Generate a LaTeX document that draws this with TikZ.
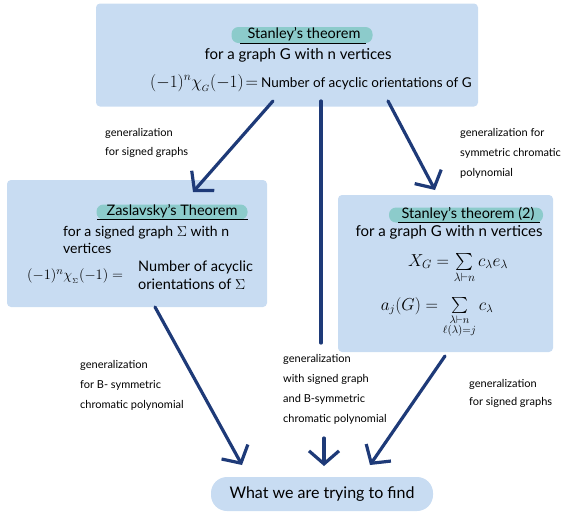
\documentclass[tikz,border=0pt]{standalone}
\usepackage{fontspec}
\usepackage{amsmath,amssymb}
\setmainfont{Lato}
\usetikzlibrary{arrows.meta,positioning}
\definecolor{boxblue}{HTML}{C8DCF2}
\definecolor{teal}{HTML}{8CCBCB}
\definecolor{navy}{HTML}{1E3A78}
\tikzset{
  panel/.style={fill=boxblue, draw=none, rounded corners=4pt, inner sep=0pt},
  pill/.style={fill=teal, rounded corners=7pt, inner sep=0pt},
  pilltext/.style={inner sep=0pt, font=\fontsize{14.5}{16}\selectfont},
  bodytext/.style={inner sep=0pt, font=\fontsize{15}{19}\selectfont, align=left},
  note/.style={inner sep=0pt, anchor=west, align=left, font=\fontsize{11}{20}\selectfont},
  conn/.style={draw=navy, line width=3.2pt, line cap=round, -{Straight Barb[length=13pt,width=30pt,line width=3.2pt]}},
  shaft/.style={draw=navy, line width=3.2pt, line cap=round},
}
\begin{document}
\begin{tikzpicture}[x=1pt,y=-1pt]
\useasboundingbox (0,0) rectangle (561,512);
% panels
\node[panel, minimum width=382pt, minimum height=103pt] (top) at (287,55) {};
\node[panel, minimum width=260pt, minimum height=127pt] (left) at (137,243.5) {};
\node[panel, minimum width=215pt, minimum height=157pt] (right) at (445.5,273.5) {};
\node[fill=boxblue, rounded corners=16pt, minimum width=222pt, minimum height=34pt, inner sep=0pt, font=\fontsize{16}{18}\selectfont] (goal) at (322,494) {What we are trying to find};
% top panel text
\node[pill, minimum width=141pt, minimum height=16pt] (t1pill) at (302,35) {};
\node[pilltext] (t1) at (304,34) {Stanley's theorem};
\draw[line width=0.8pt] (240,43.5) -- (366,43.5);
\node[bodytext] (t2) at (298,55) {for a graph G with n vertices};
\node[inner sep=0pt, anchor=west, font=\fontsize{18}{20}\selectfont] (t3) at (150,83) {$(-1)^{n}\chi_{_{G}}(-1)\!=$\,\fontsize{13.5}{15}\selectfont Number of acyclic orientations of G};
% left panel text
\node[pill, minimum width=151pt, minimum height=15pt] (l1pill) at (172,212) {};
\node[pilltext] (l1) at (172,211) {Zaslavsky's Theorem};
\draw[line width=0.8pt] (97,219.5) -- (248,219.5);
\node[bodytext, anchor=west, font=\fontsize{14}{17}\selectfont] (l2) at (63,240) {for a signed graph $\Sigma$ with n\\vertices};
\node[inner sep=0pt, anchor=west, font=\fontsize{15}{17}\selectfont] (l3) at (27,276) {$(-1)^{n}\chi_{_{\Sigma}}(-1) =$};
\node[bodytext, anchor=west, font=\fontsize{14.5}{17.5}\selectfont] (l4) at (138,275) {Number of acyclic\\orientations of $\Sigma$};
% right panel text
\node[pill, minimum width=154pt, minimum height=15pt] (r1pill) at (466,215) {};
\node[pilltext] (r1) at (468,214) {Stanley's theorem (2)};
\draw[line width=0.8pt] (398,222.5) -- (540,222.5);
\node[bodytext] (r2) at (449,232) {for a graph G with n vertices};
\node[inner sep=0pt, anchor=base, font=\fontsize{17}{19}\selectfont] (r3) at (458,266) {$X_{G}=\sum\limits_{\lambda\vdash n} c_{\lambda}e_{\lambda}$};
\node[inner sep=0pt, anchor=base, font=\fontsize{16}{18}\selectfont] (r4) at (437,310) {$a_{j}(G)=\sum\limits_{\substack{\lambda\vdash n\\ \ell(\lambda)=j}} c_{\lambda}$};
% notes
\node[note, font=\fontsize{11}{19}\selectfont] (n1) at (105,142.5) {generalization\\for signed graphs};
\node[note] (n2) at (460,153) {generalization for\\symmetric chromatic\\polynomial};
\node[note] (n3) at (80,385) {generalization\\for B- symmetric\\chromatic polynomial};
\node[note] (n4) at (283,389) {generalization\\with signed graph\\and B-symmetric\\chromatic polynomial};
\node[note, font=\fontsize{11}{18}\selectfont] (n5) at (469,393.5) {generalization\\for signed graphs};
% connector coordinates
\coordinate (a1s) at (273,101);
\coordinate (a1e) at (193,192);
\coordinate (a2s) at (321,101);
\coordinate (a2m) at (321,343);
\coordinate (a2n) at (324,438);
\coordinate (a2e) at (324,466);
\coordinate (a3s) at (388,101);
\coordinate (a3e) at (435,190);
\coordinate (a4s) at (155,307);
\coordinate (a4e) at (242,465);
\coordinate (a5s) at (445,356);
\coordinate (a5e) at (370,465);
\draw[conn] (a1s) -- (a1e);
\draw[shaft] (a2s) -- (a2m);
\draw[conn] (a2n) -- (a2e);
\draw[conn] (a3s) -- (a3e);
\draw[conn] (a4s) -- (a4e);
\draw[conn] (a5s) -- (a5e);
\end{tikzpicture}
\end{document}
